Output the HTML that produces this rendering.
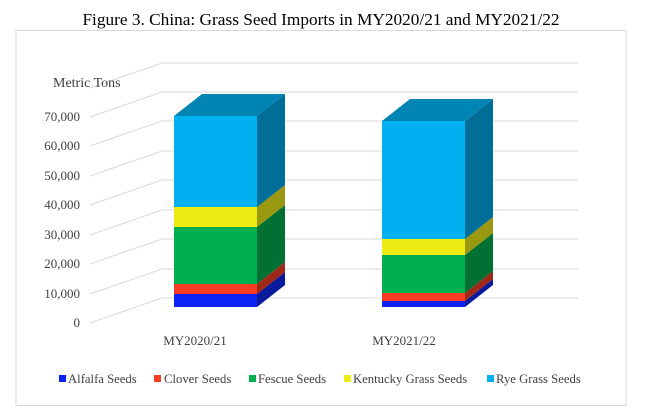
<!DOCTYPE html>
<html><head><meta charset="utf-8"><style>
body{margin:0;background:#fff;}
svg{display:block;font-family:"Liberation Serif",serif;}
</style></head><body>
<svg width="650" height="412" viewBox="0 0 650 412">
<rect x="0" y="0" width="650" height="412" fill="#fff"/>
<text x="321" y="25" font-size="17.3" text-anchor="middle" fill="#000">Figure 3. China: Grass Seed Imports in MY2020/21 and MY2021/22</text>
<rect x="16" y="30.5" width="610" height="375" fill="none" stroke="#d9d9d9" stroke-width="1"/>
<g stroke="#d9d9d9" stroke-width="1" fill="none">
<path d="M90 323 L162 298 L578 298"/>
<path d="M90 294 L162 269 L578 269"/>
<path d="M90 264 L162 239 L578 239"/>
<path d="M90 235 L162 210 L578 210"/>
<path d="M90 205 L162 180 L578 180"/>
<path d="M90 176 L162 151 L578 151"/>
<path d="M90 146 L162 121 L578 121"/>
<path d="M90 117 L162 92 L578 92"/>
<path d="M90 88 L162 63 L578 63"/>
</g>
<g font-size="13" fill="#404040" text-anchor="end">
<text x="80" y="327">0</text>
<text x="80" y="298">10,000</text>
<text x="80" y="268">20,000</text>
<text x="80" y="239">30,000</text>
<text x="80" y="209">40,000</text>
<text x="80" y="180">50,000</text>
<text x="80" y="150">60,000</text>
<text x="80" y="121">70,000</text>
</g>
<text x="53" y="87" font-size="14" fill="#404040">Metric Tons</text>
<g>
<rect x="174" y="294" width="83" height="13" fill="#0c22f5"/>
<rect x="174" y="284" width="83" height="10" fill="#f83b23"/>
<rect x="174" y="227" width="83" height="57" fill="#00b050"/>
<rect x="174" y="207" width="83" height="20" fill="#eeea13"/>
<rect x="174" y="116" width="83" height="91" fill="#00b0f0"/>
<polygon points="257,307 285,285 285,272 257,294" fill="#0a1a9c"/>
<polygon points="257,294 285,272 285,262 257,284" fill="#a02818"/>
<polygon points="257,284 285,262 285,205 257,227" fill="#007033"/>
<polygon points="257,227 285,205 285,185 257,207" fill="#9a980f"/>
<polygon points="257,207 285,185 285,94 257,116" fill="#006e96"/>
<polygon points="174,116 202,94 285,94 257,116" fill="#0084b3"/>
</g>
<g>
<rect x="382" y="301" width="83" height="6" fill="#0c22f5"/>
<rect x="382" y="293" width="83" height="8" fill="#f83b23"/>
<rect x="382" y="255" width="83" height="38" fill="#00b050"/>
<rect x="382" y="239" width="83" height="16" fill="#eeea13"/>
<rect x="382" y="121" width="83" height="118" fill="#00b0f0"/>
<polygon points="465,307 493,285 493,279 465,301" fill="#0a1a9c"/>
<polygon points="465,301 493,279 493,271 465,293" fill="#a02818"/>
<polygon points="465,293 493,271 493,233 465,255" fill="#007033"/>
<polygon points="465,255 493,233 493,217 465,239" fill="#9a980f"/>
<polygon points="465,239 493,217 493,99 465,121" fill="#006e96"/>
<polygon points="382,121 410,99 493,99 465,121" fill="#0084b3"/>
</g>
<g font-size="13" fill="#404040" text-anchor="middle">
<text x="195" y="345">MY2020/21</text>
<text x="404" y="345">MY2021/22</text>
</g>
<g font-size="12.7" fill="#404040">
<rect x="59" y="375" width="7" height="7" fill="#0c22f5"/><text x="68" y="383">Alfalfa Seeds</text>
<rect x="154" y="375" width="7" height="7" fill="#f83b23"/><text x="164" y="383">Clover Seeds</text>
<rect x="249" y="375" width="7" height="7" fill="#00b050"/><text x="258" y="383">Fescue Seeds</text>
<rect x="344" y="375" width="7" height="7" fill="#eeea13"/><text x="353" y="383">Kentucky Grass Seeds</text>
<rect x="487" y="375" width="7" height="7" fill="#00b0f0"/><text x="496" y="383">Rye Grass Seeds</text>
</g>
</svg>
</body></html>
